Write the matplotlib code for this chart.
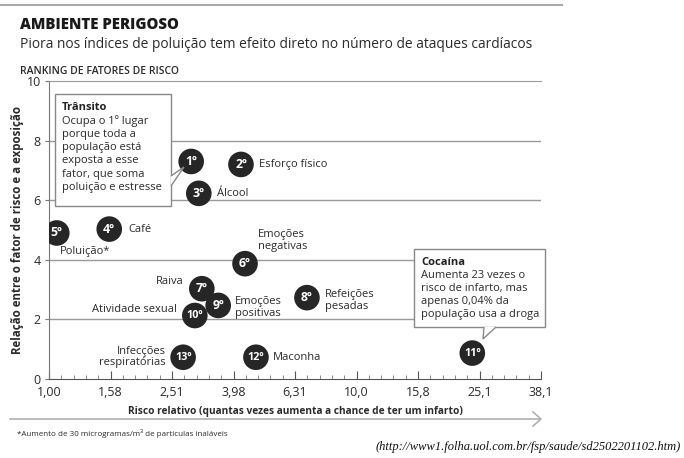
import matplotlib.pyplot as plt
import matplotlib.patches as mpatches
from matplotlib.lines import Line2D
from matplotlib.ticker import NullFormatter

plt.rcParams['font.family'] = ['Open Sans', 'DejaVu Sans']

# ranking of risk factors: relative risk (x) vs. exposure relation (y)
ranks = [1, 2, 3, 4, 5, 6, 7, 8, 9, 10, 11, 12, 13]
factors = ['Trânsito', 'Esforço físico', 'Álcool', 'Café', 'Poluição*',
           'Emoções\nnegativas', 'Raiva', 'Refeições\npesadas',
           'Emoções\npositivas', 'Atividade sexual', 'Cocaína', 'Maconha',
           'Infecções\nrespiratórias']
relative_risk = [2.90, 4.21, 3.07, 1.57, 1.06, 4.34, 3.14, 6.90, 3.55, 2.98,
                 23.8, 4.71, 2.73]
exposure = [7.3, 7.2, 6.23, 5.03, 4.9, 3.87, 3.03, 2.73, 2.47, 2.13, 0.87,
            0.73, 0.73]

x_tick_labels = ['1,00', '1,58', '2,51', '3,98', '6,31', '10,0', '15,8',
                 '25,1', '38,1']
y_ticks = [0, 2, 4, 6, 8, 10]

# label placement (offset in pixels from the bubble, horizontal alignment)
label_layout = {
    2: (18, 0, 'left'), 3: (18, 0, 'left'), 4: (19, 0, 'left'),
    5: (3, -19, 'left'), 6: (13, 23, 'left'), 7: (-18, 7, 'right'),
    8: (18, -3, 'left'), 9: (17, -2, 'left'), 10: (-18, 6, 'right'),
    12: (17, 0, 'left'), 13: (-17, 0, 'right'),
}

W, H = 684, 458
def fx(px):
    return px / W
def fy(py):
    return 1 - py / H

text_col = '#2a2a2a'
grid_col = '#9a9a9a'

fig = plt.figure(figsize=(W / 100, H / 100), dpi=100)
ax = fig.add_axes([fx(49), fy(379), 492 / W, 298 / H])

ax.set_xscale('log')
ax.set_xlim(1, 10 ** 1.6)
ax.set_ylim(0, 10)
ax.set_xticks([10 ** (0.2 * k) for k in range(len(x_tick_labels))])
ax.set_xticklabels(x_tick_labels)
ax.set_xticks([10 ** (0.04 * k) for k in range(41) if k % 5], minor=True)
ax.xaxis.set_minor_formatter(NullFormatter())
ax.set_yticks(y_ticks)
ax.tick_params(axis='x', which='major', direction='in', length=6,
               color='#555555', labelsize=9, labelcolor=text_col, pad=5)
ax.tick_params(axis='x', which='minor', direction='in', length=3,
               color='#777777')
ax.tick_params(axis='y', direction='out', length=3, color='#777777',
               labelsize=9, labelcolor=text_col, pad=3)

ax.spines['right'].set_visible(False)
ax.spines['top'].set_color(grid_col)
ax.spines['left'].set_color('#777777')
ax.spines['bottom'].set_color('#555555')
for v in y_ticks[1:-1]:
    ax.axhline(v, color=grid_col, lw=1, zorder=1)

ax.scatter(relative_risk, exposure, s=340, color='#262626', zorder=3,
           edgecolors='none')
for r, x, y in zip(ranks, relative_risk, exposure):
    ax.text(x, y, f'{r}º', ha='center', va='center', color='white',
            fontweight='bold', fontsize=8.8 if r < 10 else 7.8, zorder=4)
    if r in label_layout:
        dx, dy, ha = label_layout[r]
        ax.annotate(factors[r - 1], (x, y), xytext=(dx, dy),
                    textcoords='offset pixels', ha=ha, va='center',
                    fontsize=8, color=text_col, linespacing=1.05, zorder=4)

ax.set_xlabel('Risco relativo (quantas vezes aumenta a chance de ter um infarto)',
              fontsize=7.3, fontweight='bold', color=text_col, labelpad=5)
ax.set_ylabel('Relação entre o fator de risco e a exposição', fontsize=8.3,
              fontweight='bold', color=text_col, labelpad=2)

# callout boxes
def callout(box, tail, title, body):
    x0, y0, x1, y1 = box
    fig.add_artist(mpatches.Rectangle((fx(x0), fy(y1)), fx(x1) - fx(x0),
                                      fy(y0) - fy(y1), transform=fig.transFigure,
                                      facecolor='white', edgecolor='#888888',
                                      lw=1, zorder=5))
    fig.add_artist(mpatches.Polygon([(fx(a), fy(b)) for a, b in tail],
                                    closed=False, transform=fig.transFigure,
                                    facecolor='white', edgecolor='#888888',
                                    lw=1, zorder=6))
    fig.text(fx(x0 + 7), fy(y0 + 8), title, fontsize=8, fontweight='bold',
             color='#222222', va='top', zorder=7)
    fig.text(fx(x0 + 7), fy(y0 + 21), body, fontsize=8, color=text_col,
             va='top', linespacing=1.27, zorder=7)

callout((55, 94, 171, 206), [(171, 176), (184, 167), (171, 186)],
        'Trânsito', 'Ocupa o 1º lugar\nporque toda a\npopulação está\n'
        'exposta a esse\nfator, que soma\npoluição e estresse')
callout((414, 249, 545, 327), [(484, 327), (483, 339), (496, 327)],
        'Cocaína', 'Aumenta 23 vezes o\nrisco de infarto, mas\n'
        'apenas 0,04% da\npopulação usa a droga')

# header
fig.add_artist(Line2D([0, fx(562)], [fy(5), fy(5)], color='#aaaaaa', lw=1.5))
fig.text(fx(20), fy(25), 'AMBIENTE PERIGOSO', fontsize=10.8, fontweight='heavy',
         color='#1a1a1a', va='center')
fig.text(fx(20), fy(45), 'Piora nos índices de poluição tem efeito direto no '
         'número de ataques cardíacos', fontsize=9.9, color=text_col,
         va='center')
fig.text(fx(20), fy(71), 'RANKING DE FATORES DE RISCO', fontsize=7.5,
         fontweight='semibold', color=text_col, va='center')

# bottom arrow, footnote and source
fig.add_artist(Line2D([fx(10), fx(540)], [fy(419), fy(419)], color='#b0b0b0',
                      lw=1.2))
fig.add_artist(Line2D([fx(533), fx(541), fx(533)], [fy(412), fy(419), fy(426)],
                      color='#b0b0b0', lw=1.2))
fig.text(fx(17), fy(434), '*Aumento de 30 microgramas/m³ de partículas inaláveis',
         fontsize=5.8, color=text_col, va='center')
fig.text(fx(681), fy(447), '(http://www1.folha.uol.com.br/fsp/saude/sd2502201102.htm)',
         fontsize=9, family='Liberation Serif', style='italic', color='#111111',
         ha='right', va='center')

fig.savefig('out.png', dpi=100, facecolor='white')
